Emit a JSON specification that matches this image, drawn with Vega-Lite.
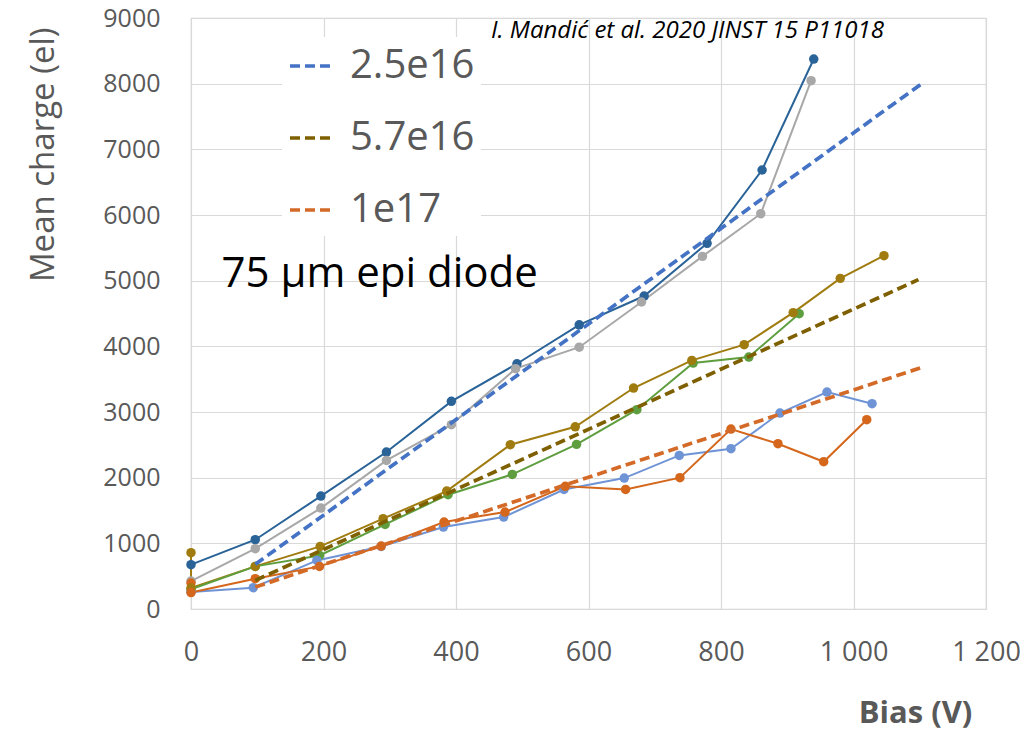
{
  "$schema": "https://vega.github.io/schema/vega-lite/v6.json",
  "width": 795,
  "height": 591,
  "autosize": "none",
  "padding": {"left": 191, "top": 18, "right": 45, "bottom": 127},
  "background": "white",
  "config": {
    "view": {"stroke": "#d4d4d4", "strokeWidth": 1.2},
    "font": "Open Sans"
  },
  "datasets": {
    "meas": [
      {"s": "2.5e16 a", "i": 0, "v": 0, "q": 675},
      {"s": "2.5e16 a", "i": 1, "v": 97, "q": 1055},
      {"s": "2.5e16 a", "i": 2, "v": 196, "q": 1720},
      {"s": "2.5e16 a", "i": 3, "v": 295, "q": 2390},
      {"s": "2.5e16 a", "i": 4, "v": 393, "q": 3162},
      {"s": "2.5e16 a", "i": 5, "v": 492, "q": 3735},
      {"s": "2.5e16 a", "i": 6, "v": 586, "q": 4327},
      {"s": "2.5e16 a", "i": 7, "v": 684, "q": 4766},
      {"s": "2.5e16 a", "i": 8, "v": 779, "q": 5568},
      {"s": "2.5e16 a", "i": 9, "v": 862, "q": 6685},
      {"s": "2.5e16 a", "i": 10, "v": 940, "q": 8375},
      {"s": "2.5e16 b", "i": 0, "v": 0, "q": 425},
      {"s": "2.5e16 b", "i": 1, "v": 97, "q": 918},
      {"s": "2.5e16 b", "i": 2, "v": 196, "q": 1537},
      {"s": "2.5e16 b", "i": 3, "v": 295, "q": 2263},
      {"s": "2.5e16 b", "i": 4, "v": 393, "q": 2807},
      {"s": "2.5e16 b", "i": 5, "v": 490, "q": 3660},
      {"s": "2.5e16 b", "i": 6, "v": 586, "q": 3987},
      {"s": "2.5e16 b", "i": 7, "v": 680, "q": 4675},
      {"s": "2.5e16 b", "i": 8, "v": 772, "q": 5370},
      {"s": "2.5e16 b", "i": 9, "v": 860, "q": 6020},
      {"s": "2.5e16 b", "i": 10, "v": 936, "q": 8045},
      {"s": "5.7e16 a", "i": 0, "v": 0, "q": 857},
      {"s": "5.7e16 a", "i": 1, "v": 0, "q": 320},
      {"s": "5.7e16 a", "i": 2, "v": 97, "q": 649},
      {"s": "5.7e16 a", "i": 3, "v": 195, "q": 953},
      {"s": "5.7e16 a", "i": 4, "v": 290, "q": 1375},
      {"s": "5.7e16 a", "i": 5, "v": 386, "q": 1796},
      {"s": "5.7e16 a", "i": 6, "v": 482, "q": 2502},
      {"s": "5.7e16 a", "i": 7, "v": 580, "q": 2775},
      {"s": "5.7e16 a", "i": 8, "v": 668, "q": 3365},
      {"s": "5.7e16 a", "i": 9, "v": 756, "q": 3786},
      {"s": "5.7e16 a", "i": 10, "v": 835, "q": 4025},
      {"s": "5.7e16 a", "i": 11, "v": 909, "q": 4513},
      {"s": "5.7e16 a", "i": 12, "v": 980, "q": 5035},
      {"s": "5.7e16 a", "i": 13, "v": 1046, "q": 5380},
      {"s": "5.7e16 b", "i": 0, "v": 0, "q": 300},
      {"s": "5.7e16 b", "i": 1, "v": 97, "q": 649},
      {"s": "5.7e16 b", "i": 2, "v": 194, "q": 816},
      {"s": "5.7e16 b", "i": 3, "v": 293, "q": 1288},
      {"s": "5.7e16 b", "i": 4, "v": 388, "q": 1741},
      {"s": "5.7e16 b", "i": 5, "v": 485, "q": 2050},
      {"s": "5.7e16 b", "i": 6, "v": 582, "q": 2507},
      {"s": "5.7e16 b", "i": 7, "v": 673, "q": 3035},
      {"s": "5.7e16 b", "i": 8, "v": 758, "q": 3745},
      {"s": "5.7e16 b", "i": 9, "v": 842, "q": 3837},
      {"s": "5.7e16 b", "i": 10, "v": 918, "q": 4497},
      {"s": "1e17 a", "i": 0, "v": 0, "q": 260},
      {"s": "1e17 a", "i": 1, "v": 94, "q": 324},
      {"s": "1e17 a", "i": 2, "v": 190, "q": 740},
      {"s": "1e17 a", "i": 3, "v": 287, "q": 953},
      {"s": "1e17 a", "i": 4, "v": 381, "q": 1248},
      {"s": "1e17 a", "i": 5, "v": 472, "q": 1400},
      {"s": "1e17 a", "i": 6, "v": 563, "q": 1820},
      {"s": "1e17 a", "i": 7, "v": 654, "q": 1994},
      {"s": "1e17 a", "i": 8, "v": 737, "q": 2339},
      {"s": "1e17 a", "i": 9, "v": 815, "q": 2441},
      {"s": "1e17 a", "i": 10, "v": 889, "q": 2984},
      {"s": "1e17 a", "i": 11, "v": 960, "q": 3304},
      {"s": "1e17 a", "i": 12, "v": 1028, "q": 3127},
      {"s": "1e17 b", "i": 0, "v": 0, "q": 395},
      {"s": "1e17 b", "i": 1, "v": 0, "q": 250},
      {"s": "1e17 b", "i": 2, "v": 97, "q": 461},
      {"s": "1e17 b", "i": 3, "v": 194, "q": 649},
      {"s": "1e17 b", "i": 4, "v": 287, "q": 958},
      {"s": "1e17 b", "i": 5, "v": 382, "q": 1324},
      {"s": "1e17 b", "i": 6, "v": 474, "q": 1476},
      {"s": "1e17 b", "i": 7, "v": 565, "q": 1868},
      {"s": "1e17 b", "i": 8, "v": 656, "q": 1821},
      {"s": "1e17 b", "i": 9, "v": 738, "q": 2000},
      {"s": "1e17 b", "i": 10, "v": 815, "q": 2740},
      {"s": "1e17 b", "i": 11, "v": 886, "q": 2517},
      {"s": "1e17 b", "i": 12, "v": 955, "q": 2243},
      {"s": "1e17 b", "i": 13, "v": 1020, "q": 2883}
    ],
    "fits": [
      {"f": "2.5e16", "v": 97, "q": 680},
      {"f": "2.5e16", "v": 1101, "q": 7985},
      {"f": "5.7e16", "v": 97, "q": 435},
      {"f": "5.7e16", "v": 1098, "q": 5015},
      {"f": "1e17", "v": 97, "q": 334},
      {"f": "1e17", "v": 1102, "q": 3675}
    ]
  },
  "encoding": {
    "x": {
      "field": "v", "type": "quantitative",
      "scale": {"domain": [0, 1200], "nice": false, "zero": false},
      "axis": {
        "values": [0, 200, 400, 600, 800, 1000, 1200],
        "labelExpr": "datum.value >= 1000 ? floor(datum.value / 1000) + ' ' + format(datum.value % 1000, '03d') : format(datum.value, 'd')",
        "labelFlush": false,
        "domain": false, "ticks": false, "tickSize": 0,
        "grid": true, "gridColor": "#d9d9d9", "gridWidth": 1.2,
        "labelFont": "Open Sans", "labelFontSize": 27, "labelColor": "#595959", "labelPadding": 30,
        "title": "Bias (V)", "titleFont": "Open Sans", "titleFontSize": 31, "titleFontWeight": "bold", "titleColor": "#595959",
        "titleX": 724, "titleY": 113, "titleAlign": "center", "titleBaseline": "alphabetic"
      }
    },
    "y": {
      "field": "q", "type": "quantitative",
      "scale": {"domain": [0, 9000], "nice": false},
      "axis": {
        "values": [0, 1000, 2000, 3000, 4000, 5000, 6000, 7000, 8000, 9000],
        "format": "d",
        "domain": false, "ticks": false, "tickSize": 0,
        "grid": true, "gridColor": "#d9d9d9", "gridWidth": 1.2,
        "labelFont": "Open Sans", "labelFontSize": 25, "labelColor": "#595959", "labelPadding": 31,
        "title": "Mean charge (el)", "titleFont": "Open Sans", "titleFontSize": 33, "titleFontWeight": "normal", "titleColor": "#595959",
        "titleAngle": -90, "titleX": -138, "titleY": 9, "titleAlign": "right", "titleBaseline": "alphabetic"
      }
    }
  },
  "layer": [
    {
      "data": {"values": [{"t": "75 μm epi diode", "v": 46, "q": 4903}]},
      "mark": {"type": "text", "font": "Open Sans", "fontSize": 42, "color": "black", "align": "left", "baseline": "alphabetic"},
      "encoding": {"text": {"field": "t"}}
    },
    {
      "data": {"values": [{"t": "I. Mandić et al. 2020 JINST 15 P11018", "v": 453, "q": 8690}]},
      "mark": {"type": "text", "font": "Open Sans", "fontSize": 24, "fontStyle": "italic", "color": "black", "align": "left", "baseline": "alphabetic"},
      "encoding": {"text": {"field": "t"}}
    },
    {
      "data": {"name": "meas"},
      "mark": {"type": "line", "strokeWidth": 2, "point": {"filled": true, "size": 90, "opacity": 1}},
      "encoding": {
        "order": {"field": "i", "type": "quantitative"},
        "color": {
          "field": "s", "type": "nominal",
          "scale": {
            "domain": ["2.5e16 a", "2.5e16 b", "5.7e16 a", "5.7e16 b", "1e17 a", "1e17 b"],
            "range": ["#2a6398", "#a8a8a8", "#a07c10", "#5f9e3f", "#6f94d6", "#d4671c"]
          },
          "legend": null
        }
      }
    },
    {
      "data": {"name": "fits"},
      "mark": {"type": "line", "strokeWidth": 3.7, "strokeDash": [10, 5]},
      "encoding": {
        "color": {
          "field": "f", "type": "nominal",
          "scale": {"domain": ["2.5e16", "5.7e16", "1e17"], "range": ["#4472c4", "#7f6000", "#d46a28"]},
          "legend": {
            "orient": "none", "legendX": 91, "legendY": 19, "title": null,
            "symbolType": "stroke", "symbolSize": 1764, "symbolStrokeWidth": 3.7, "symbolDash": [10, 5],
            "labelFont": "Open Sans", "labelFontSize": 40, "labelColor": "#595959", "labelOffset": 16,
            "rowPadding": 29, "padding": 6, "fillColor": "white"
          }
        }
      }
    }
  ],
  "resolve": {"scale": {"color": "independent"}}
}
